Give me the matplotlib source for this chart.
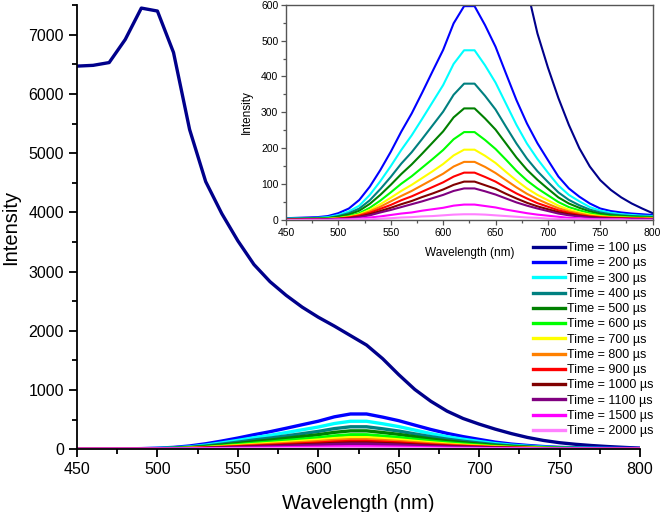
import matplotlib
matplotlib.use("Agg")
import matplotlib.pyplot as plt
from matplotlib.ticker import MultipleLocator

plt.rcParams['font.family'] = ['Liberation Sans', 'DejaVu Sans']

# wavelength grid (nm)
wavelength = [450, 460, 470, 480, 490, 500, 510, 520, 530, 540, 550, 560,
              570, 580, 590, 600, 610, 620, 630, 640, 650, 660, 670, 680,
              690, 700, 710, 720, 730, 740, 750, 760, 770, 780, 790, 800]

# delay times (us)
times = [100, 200, 300, 400, 500, 600, 700, 800, 900, 1000, 1100, 1500, 2000]

# intensity for each delay
i100 = [6470, 6483, 6530, 6920, 7450, 7400, 6700, 5400, 4520, 3980, 3520, 3120,
        2830, 2600, 2400, 2230, 2080, 1920, 1760, 1530, 1260, 1010, 810, 645,
        520, 425, 340, 265, 200, 149, 111, 84, 63, 46, 32, 19]
i200 = [5, 6, 7, 8, 11, 19, 32, 56, 93, 139, 190, 246,
        297, 355, 415, 474, 548, 596, 596, 543, 483, 408, 334, 269,
        214, 167, 121, 88, 65, 46, 32, 25, 21, 18, 16, 14]
i300 = [4, 5, 5, 6, 8, 14, 24, 40, 70, 108, 150, 195,
        236, 282, 329, 376, 435, 473, 473, 431, 383, 324, 265, 213,
        170, 132, 96, 70, 52, 36, 26, 20, 16, 14, 12, 11]
i400 = [3, 4, 4, 5, 6, 11, 19, 32, 55, 86, 120, 157,
        189, 226, 264, 302, 349, 380, 380, 346, 308, 260, 213, 171,
        136, 106, 77, 56, 41, 29, 21, 16, 13, 11, 10, 9]
i500 = [3, 3, 4, 4, 5, 9, 15, 26, 45, 70, 98, 128,
        155, 185, 216, 247, 286, 311, 311, 283, 252, 213, 174, 140,
        112, 87, 63, 46, 34, 24, 17, 13, 11, 9, 8, 7]
i600 = [2, 2, 3, 3, 4, 6, 11, 19, 34, 54, 77, 101,
        122, 146, 170, 195, 225, 245, 245, 223, 198, 168, 137, 110,
        88, 69, 50, 36, 27, 19, 13, 10, 9, 7, 7, 6]
i700 = [2, 2, 2, 3, 3, 5, 9, 16, 28, 44, 62, 81,
        98, 117, 136, 156, 180, 196, 196, 179, 159, 134, 110, 88,
        70, 55, 40, 29, 21, 15, 11, 8, 7, 6, 5, 5]
i800 = [1, 2, 2, 2, 3, 4, 8, 14, 24, 37, 52, 67,
        81, 97, 113, 129, 149, 162, 162, 148, 131, 111, 91, 73,
        58, 45, 33, 24, 18, 12, 9, 7, 6, 5, 4, 4]
i900 = [1, 1, 2, 2, 2, 4, 7, 12, 20, 31, 42, 55,
        66, 79, 92, 105, 121, 132, 132, 120, 107, 90, 74, 60,
        47, 37, 27, 20, 14, 10, 7, 6, 5, 4, 4, 3]
i1000 = [1, 1, 1, 1, 2, 3, 5, 9, 16, 25, 34, 44,
         53, 64, 74, 85, 98, 107, 107, 97, 87, 73, 60, 48,
         38, 30, 22, 16, 12, 8, 6, 4, 4, 3, 3, 2]
i1100 = [1, 1, 1, 1, 2, 3, 4, 8, 13, 21, 28, 36,
         44, 52, 61, 70, 81, 88, 88, 80, 71, 60, 49, 40,
         32, 25, 18, 13, 10, 7, 5, 4, 3, 3, 2, 2]
i1500 = [0, 0, 1, 1, 1, 1, 2, 4, 7, 10, 14, 18,
         21, 26, 30, 34, 40, 43, 43, 39, 35, 29, 24, 19,
         15, 12, 9, 6, 5, 3, 2, 2, 2, 1, 1, 1]
i2000 = [0, 0, 0, 0, 0, 1, 1, 2, 2, 4, 5, 7,
         8, 10, 11, 13, 15, 16, 16, 15, 13, 11, 9, 7,
         6, 4, 3, 2, 2, 1, 1, 1, 1, 0, 0, 0]

series = [i100, i200, i300, i400, i500, i600, i700, i800, i900,
          i1000, i1100, i1500, i2000]
colors = ['#00008B', '#0000FF', '#00FFFF', '#008080', '#008000', '#00FF00',
          '#FFFF00', '#FF8000', '#FF0000', '#800000', '#800080', '#FF00FF',
          '#FF80FF']

fig = plt.figure(figsize=(6.66, 5.12), dpi=100)

# main axes
ax = fig.add_axes([0.1156, 0.1225, 0.8454, 0.8675])
for t, y, c in zip(times, series, colors):
    ax.plot(wavelength, y, color=c, lw=2.4, label=f'Time = {t} µs')

ax.set_xlim(450, 800)
ax.set_ylim(0, 7500)
ax.xaxis.set_major_locator(MultipleLocator(50))
ax.xaxis.set_minor_locator(MultipleLocator(25))
ax.yaxis.set_major_locator(MultipleLocator(1000))
ax.yaxis.set_minor_locator(MultipleLocator(500))
ax.spines['top'].set_visible(False)
ax.spines['right'].set_visible(False)
for s in ['left', 'bottom']:
    ax.spines[s].set_linewidth(1.3)
ax.tick_params(which='major', direction='out', length=6, width=1.3, labelsize=11.5)
ax.tick_params(which='minor', direction='out', length=3.5, width=1.3)
ax.set_xlabel('Wavelength (nm)', fontsize=14.5, labelpad=12)
ax.set_ylabel('Intensity', fontsize=14.5, labelpad=6)

# legend
handles, labels = ax.get_legend_handles_labels()
fig.legend(handles, labels, loc='upper left', bbox_to_anchor=(0.801, 0.527),
           frameon=False, fontsize=9, handlelength=2.5, handletextpad=0.2,
           labelspacing=0.26, borderpad=0, borderaxespad=0)

# inset
axi = fig.add_axes([0.4294, 0.5703, 0.5506, 0.4205])
for y, c in zip(series, colors):
    axi.plot(wavelength, y, color=c, lw=1.5)
axi.set_xlim(450, 800)
axi.set_ylim(0, 600)
axi.xaxis.set_major_locator(MultipleLocator(50))
axi.xaxis.set_minor_locator(MultipleLocator(25))
axi.yaxis.set_major_locator(MultipleLocator(100))
axi.yaxis.set_minor_locator(MultipleLocator(50))
for s in axi.spines.values():
    s.set_color('#555555')
    s.set_linewidth(1.0)
axi.tick_params(which='major', direction='out', length=3.5, width=0.9,
                labelsize=7.5, color='#555555', pad=2)
axi.tick_params(which='minor', direction='out', length=2, width=0.9, color='#555555')
axi.set_xlabel('Wavelength (nm)', fontsize=8.5, labelpad=7)
axi.set_ylabel('Intensity', fontsize=8.5, labelpad=6)

fig.savefig('out.png', dpi=100)
